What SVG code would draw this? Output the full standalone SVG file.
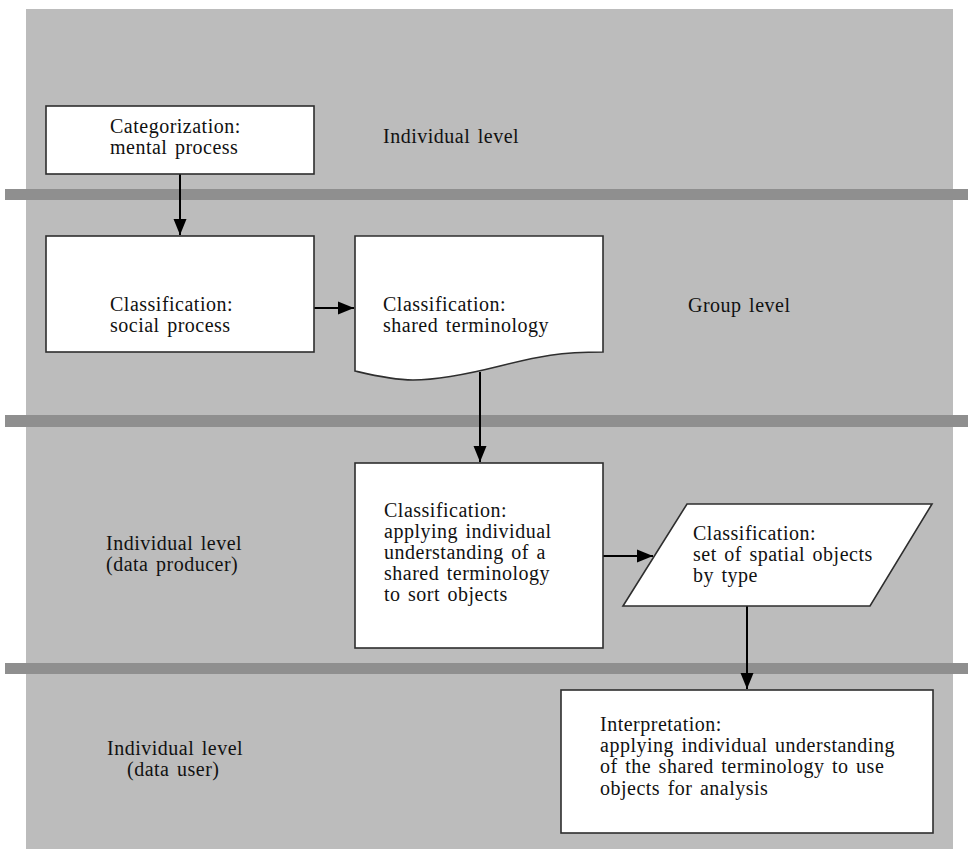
<svg xmlns="http://www.w3.org/2000/svg" width="968" height="849" viewBox="0 0 968 849">
<defs>
<style>
.panel{fill:#bcbcbc}
.bar{fill:#8f8f8f}
.node{fill:#ffffff;stroke:#2e2e2e;stroke-width:1.6}
text{font-family:"Liberation Serif","Times New Roman",serif;font-size:20px;fill:#111;letter-spacing:0.5px;word-spacing:2px}
.conn{stroke:#000;stroke-width:2;fill:none}
</style>
<marker id="arr" viewBox="0 0 16 14" refX="16" refY="7" markerWidth="16" markerHeight="14" markerUnits="userSpaceOnUse" orient="auto">
<path d="M0,0.5 L16,7 L0,13.5 Z" fill="#000"/>
</marker>
</defs>
<rect width="968" height="849" fill="#ffffff"/>
<rect class="panel" x="26" y="9" width="927" height="840"/>
<g id="separators">
<rect class="bar" x="5" y="189" width="963" height="11"/>
<rect class="bar" x="5" y="415" width="963" height="12"/>
<rect class="bar" x="5" y="663" width="963" height="11"/>
</g>
<g id="level-labels">
<text x="383" y="143">Individual level</text>
<text x="688" y="312">Group level</text>
<text><tspan x="106" y="550">Individual level</tspan><tspan x="106" y="571">(data producer)</tspan></text>
<text><tspan x="107" y="755">Individual level</tspan><tspan x="127" y="776">(data user)</tspan></text>
</g>
<g id="connectors">
<line class="conn" x1="180" y1="174" x2="180" y2="235" marker-end="url(#arr)"/>
<line class="conn" x1="314" y1="308" x2="354" y2="308" marker-end="url(#arr)"/>
<line class="conn" x1="480" y1="372" x2="480" y2="462" marker-end="url(#arr)"/>
<line class="conn" x1="603" y1="556" x2="653" y2="556" marker-end="url(#arr)"/>
<line class="conn" x1="747" y1="606" x2="747" y2="689" marker-end="url(#arr)"/>
</g>
<g id="categorization">
<rect class="node" x="46" y="106" width="268" height="68"/>
<text><tspan x="110" y="133">Categorization:</tspan><tspan x="110" y="154">mental process</tspan></text>
</g>
<g id="classification-social">
<rect class="node" x="46" y="236" width="268" height="116"/>
<text><tspan x="110" y="311">Classification:</tspan><tspan x="110" y="332">social process</tspan></text>
</g>
<g id="classification-terminology">
<path class="node" d="M355,236 H603 V352 C560,352 540,356 500,366 C460,376 435,380 413,380 C392,380 372,375 355,371 Z"/>
<text><tspan x="383" y="311">Classification:</tspan><tspan x="383" y="332">shared terminology</tspan></text>
</g>
<g id="classification-applying">
<rect class="node" x="355" y="463" width="248" height="185"/>
<text><tspan x="384" y="517">Classification:</tspan><tspan x="384" y="538">applying individual</tspan><tspan x="384" y="559">understanding of a</tspan><tspan x="384" y="580">shared terminology</tspan><tspan x="384" y="601">to sort objects</tspan></text>
</g>
<g id="classification-set">
<path class="node" d="M687,504 H932 L870,606 H623 Z"/>
<text><tspan x="693" y="540">Classification:</tspan><tspan x="693" y="561">set of spatial objects</tspan><tspan x="693" y="582">by type</tspan></text>
</g>
<g id="interpretation">
<rect class="node" x="561" y="690" width="372" height="143"/>
<text><tspan x="600" y="731">Interpretation:</tspan><tspan x="600" y="752">applying individual understanding</tspan><tspan x="600" y="773">of the shared terminology to use</tspan><tspan x="600" y="795">objects for analysis</tspan></text>
</g>
</svg>
